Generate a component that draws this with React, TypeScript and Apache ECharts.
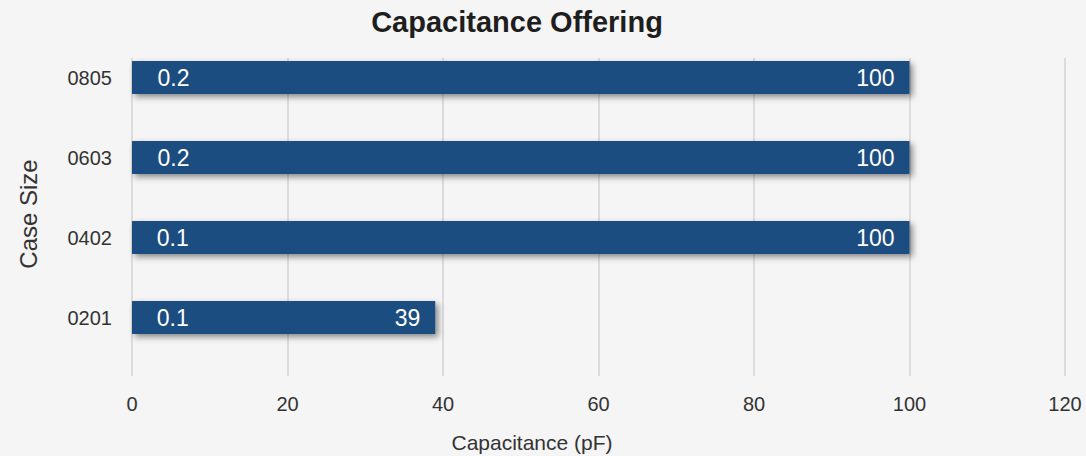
import React, { useEffect, useRef } from "react";
import * as echarts from "echarts";

const categories = ["0201", "0402", "0603", "0805"];
const minValues = [0.1, 0.1, 0.2, 0.2];
const maxValues = [39, 100, 100, 100];
const xTicks = { min: 0, max: 120, interval: 20 };
const titleText = "Capacitance Offering";
const xName = "Capacitance (pF)";
const yName = "Case Size";

const FONT = "'Liberation Sans', Arial, Helvetica, sans-serif";

export default function App() {
  const ref = useRef<HTMLDivElement>(null);
  useEffect(() => {
    if (!ref.current) return;
    const chart = echarts.init(ref.current, undefined, { renderer: "svg" });
    chart.setOption({
      animation: false,
      backgroundColor: "#f5f5f5",
      textStyle: { fontFamily: FONT },
      grid: [
        { left: 132, right: 21, top: 37.5, height: 320 },
        { left: 132, right: 21, top: 58, bottom: 80 },
      ],
      xAxis: [
        {
          gridIndex: 0,
          type: "value",
          min: xTicks.min,
          max: xTicks.max,
          interval: xTicks.interval,
          show: false,
          splitLine: { show: false },
        },
        {
          gridIndex: 1,
          type: "value",
          min: xTicks.min,
          max: xTicks.max,
          interval: xTicks.interval,
          axisLine: { show: false },
          axisTick: { show: false },
          axisLabel: { fontSize: 20, color: "#333", margin: 18, fontFamily: FONT },
          splitLine: { show: true, lineStyle: { color: "#dcdcdc", width: 2 } },
        },
      ],
      yAxis: [
        {
          gridIndex: 0,
          type: "category",
          data: categories,
          axisLine: { show: false },
          axisTick: { show: false },
          axisLabel: { fontSize: 20, color: "#333", margin: 20, fontFamily: FONT },
          splitLine: { show: false },
        },
        {
          gridIndex: 1,
          type: "value",
          min: 0,
          max: 1,
          show: false,
          splitLine: { show: false },
        },
      ],
      graphic: [
        {
          type: "text",
          x: 517,
          y: 22,
          style: {
            text: titleText,
            fontSize: 29,
            fontWeight: "bold",
            fill: "#1e1e1e",
            fontFamily: FONT,
            textAlign: "center",
            textVerticalAlign: "middle",
          },
        },
        {
          type: "text",
          x: 532,
          y: 442,
          style: {
            text: xName,
            fontSize: 21,
            fill: "#333",
            fontFamily: FONT,
            textAlign: "center",
            textVerticalAlign: "middle",
          },
        },
        {
          type: "text",
          x: 28,
          y: 214,
          rotation: Math.PI / 2,
          style: {
            text: yName,
            fontSize: 24,
            fill: "#333",
            fontFamily: FONT,
            textAlign: "center",
            textVerticalAlign: "middle",
          },
        },
      ],
      series: [
        {
          type: "bar",
          name: "Max",
          xAxisIndex: 0,
          yAxisIndex: 0,
          data: maxValues,
          barWidth: 33,
          itemStyle: {
            color: "#1f4e80",
            shadowColor: "rgba(0,0,0,0.45)",
            shadowBlur: 6,
            shadowOffsetX: 3,
            shadowOffsetY: 3,
          },
          label: {
            show: true,
            position: "insideRight",
            distance: 15,
            color: "#fff",
            fontSize: 23,
            fontFamily: FONT,
          },
        },
        {
          type: "bar",
          name: "Min",
          xAxisIndex: 0,
          yAxisIndex: 0,
          data: minValues,
          barWidth: 33,
          barGap: "-100%",
          itemStyle: { color: "rgba(0,0,0,0)" },
          label: {
            show: true,
            position: "right",
            distance: 24,
            color: "#fff",
            fontSize: 23,
            fontFamily: FONT,
          },
        },
      ],
    });
    return () => chart.dispose();
  }, []);
  return (
    <div
      ref={ref}
      style={{ position: "absolute", left: 0, top: 0, width: 1086, height: 456 }}
    />
  );
}
